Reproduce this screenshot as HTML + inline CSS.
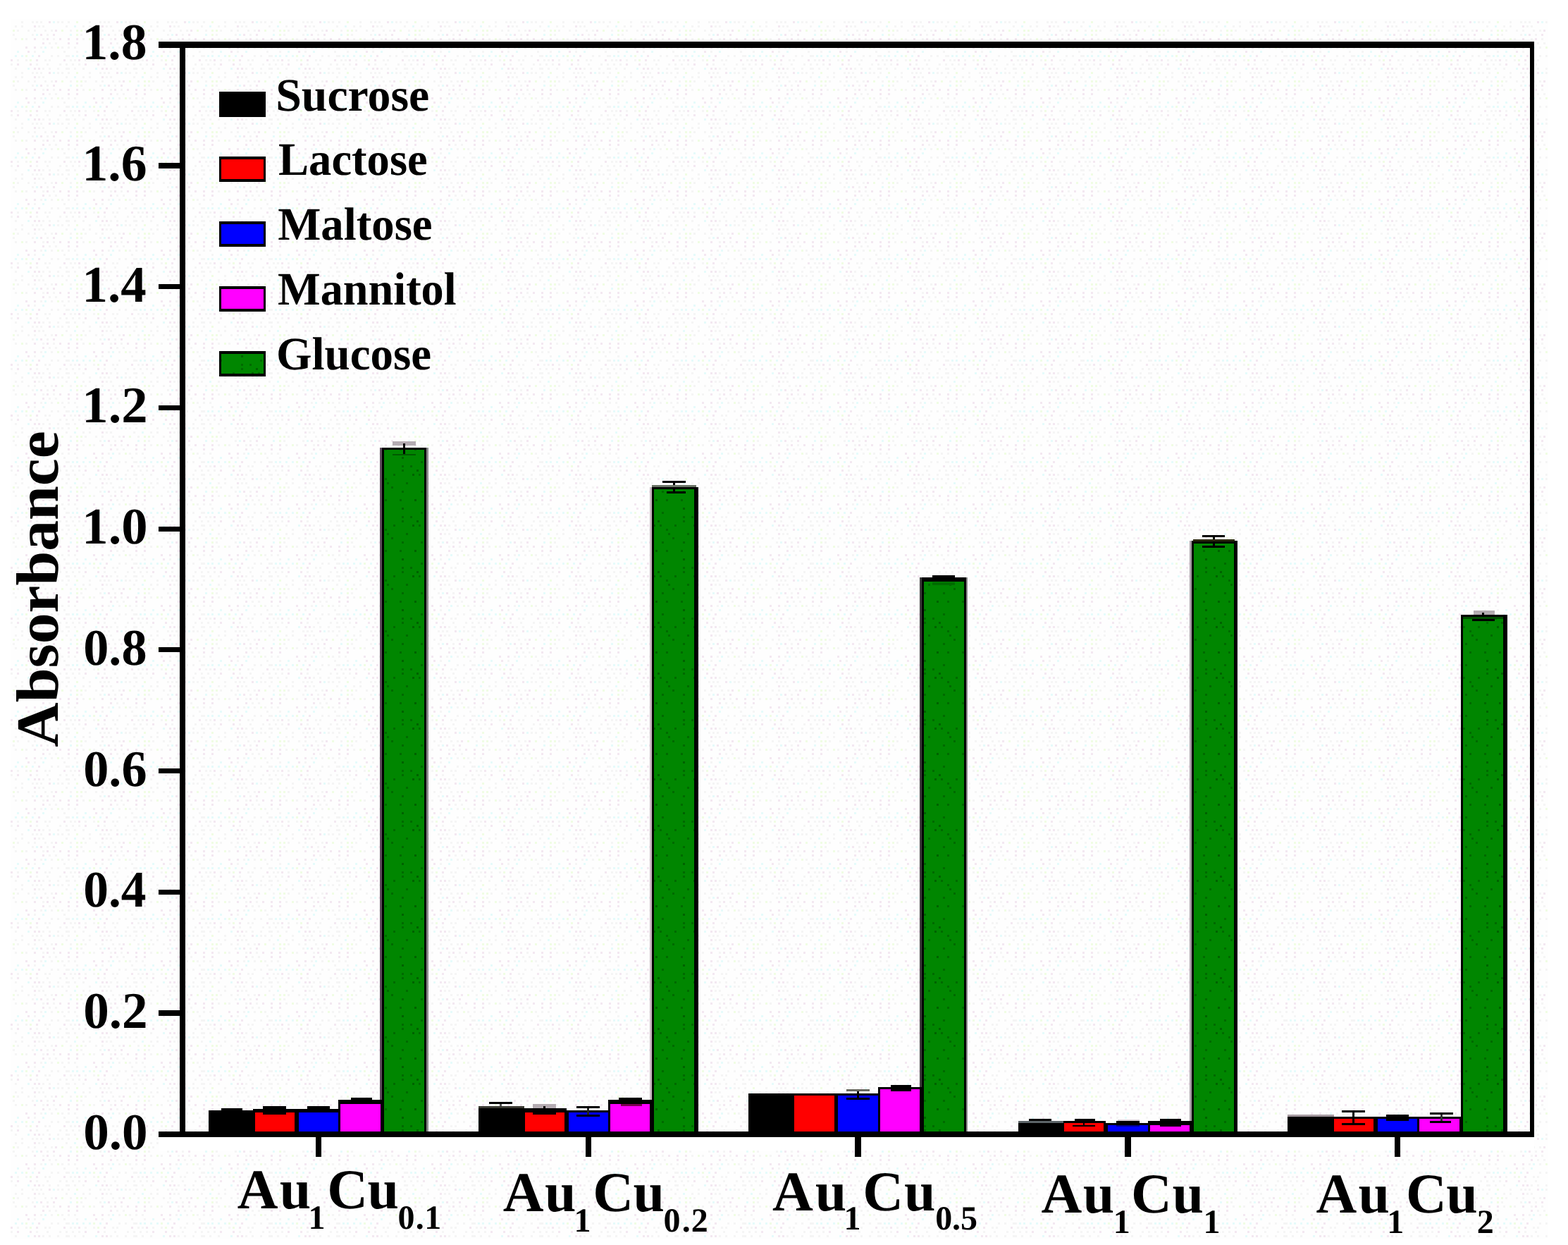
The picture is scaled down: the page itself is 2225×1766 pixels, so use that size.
<!DOCTYPE html>
<html lang="en">
<head>
<meta charset="utf-8">
<title>Absorbance chart</title>
<style>
html,body{margin:0;padding:0;background:#fff;}
body{width:2225px;height:1766px;overflow:hidden;font-family:"Liberation Serif",serif;}
svg{display:block;position:absolute;left:0;top:0;}
</style>
</head>
<body>
<svg width="2225" height="1766" viewBox="0 0 2225 1766" shape-rendering="crispEdges">
<rect x="0" y="0" width="2225" height="1766" fill="#ffffff"/>
<defs>
<pattern id="bn" width="96" height="72" patternUnits="userSpaceOnUse"><rect width="96" height="72" fill="#fefefe"/><rect x="12" y="0" width="3" height="3" fill="#f5f5f5"/><rect x="24" y="0" width="3" height="3" fill="#e6fbfb"/><rect x="39" y="0" width="3" height="3" fill="#f3e8f1"/><rect x="48" y="0" width="3" height="3" fill="#f5f5f5"/><rect x="60" y="0" width="3" height="3" fill="#e6fbfb"/><rect x="90" y="0" width="3" height="3" fill="#f5f5f5"/><rect x="0" y="6" width="3" height="3" fill="#f5f5f5"/><rect x="6" y="6" width="3" height="3" fill="#e6fbfb"/><rect x="12" y="6" width="3" height="3" fill="#e6fbfb"/><rect x="21" y="6" width="3" height="3" fill="#e6fbfb"/><rect x="30" y="6" width="3" height="3" fill="#e6fbfb"/><rect x="36" y="6" width="3" height="3" fill="#f0fde4"/><rect x="45" y="6" width="3" height="3" fill="#e6fbfb"/><rect x="54" y="6" width="3" height="3" fill="#f3e8f1"/><rect x="72" y="6" width="3" height="3" fill="#f5f5f5"/><rect x="81" y="6" width="3" height="3" fill="#f5f5f5"/><rect x="93" y="6" width="3" height="3" fill="#f5f5f5"/><rect x="3" y="12" width="3" height="3" fill="#f5f5f5"/><rect x="9" y="12" width="3" height="3" fill="#f5f5f5"/><rect x="15" y="12" width="3" height="3" fill="#f3e8f1"/><rect x="24" y="12" width="3" height="3" fill="#f5f5f5"/><rect x="36" y="12" width="3" height="3" fill="#f5f5f5"/><rect x="42" y="12" width="3" height="3" fill="#f0fde4"/><rect x="51" y="12" width="3" height="3" fill="#f3e8f1"/><rect x="63" y="12" width="3" height="3" fill="#f5f5f5"/><rect x="69" y="12" width="3" height="3" fill="#f5f5f5"/><rect x="90" y="12" width="3" height="3" fill="#f3e8f1"/><rect x="6" y="18" width="3" height="3" fill="#f5f5f5"/><rect x="15" y="18" width="3" height="3" fill="#f5f5f5"/><rect x="24" y="18" width="3" height="3" fill="#f3e8f1"/><rect x="42" y="18" width="3" height="3" fill="#f3e8f1"/><rect x="51" y="18" width="3" height="3" fill="#f5f5f5"/><rect x="66" y="18" width="3" height="3" fill="#f5f5f5"/><rect x="84" y="18" width="3" height="3" fill="#f5f5f5"/><rect x="93" y="18" width="3" height="3" fill="#f5f5f5"/><rect x="0" y="24" width="3" height="3" fill="#f5f5f5"/><rect x="9" y="24" width="3" height="3" fill="#f5f5f5"/><rect x="21" y="24" width="3" height="3" fill="#f5f5f5"/><rect x="39" y="24" width="3" height="3" fill="#e6fbfb"/><rect x="48" y="24" width="3" height="3" fill="#f3e8f1"/><rect x="54" y="24" width="3" height="3" fill="#f3e8f1"/><rect x="60" y="24" width="3" height="3" fill="#f5f5f5"/><rect x="69" y="24" width="3" height="3" fill="#f5f5f5"/><rect x="81" y="24" width="3" height="3" fill="#f5f5f5"/><rect x="93" y="24" width="3" height="3" fill="#f5f5f5"/><rect x="0" y="30" width="3" height="3" fill="#f5f5f5"/><rect x="12" y="30" width="3" height="3" fill="#f0fde4"/><rect x="30" y="30" width="3" height="3" fill="#f5f5f5"/><rect x="45" y="30" width="3" height="3" fill="#f5f5f5"/><rect x="51" y="30" width="3" height="3" fill="#f5f5f5"/><rect x="57" y="30" width="3" height="3" fill="#f5f5f5"/><rect x="69" y="30" width="3" height="3" fill="#f3e8f1"/><rect x="75" y="30" width="3" height="3" fill="#e6fbfb"/><rect x="81" y="30" width="3" height="3" fill="#f5f5f5"/><rect x="87" y="30" width="3" height="3" fill="#f5f5f5"/><rect x="9" y="36" width="3" height="3" fill="#e6fbfb"/><rect x="21" y="36" width="3" height="3" fill="#f5f5f5"/><rect x="30" y="36" width="3" height="3" fill="#f5f5f5"/><rect x="48" y="36" width="3" height="3" fill="#f3e8f1"/><rect x="54" y="36" width="3" height="3" fill="#f5f5f5"/><rect x="60" y="36" width="3" height="3" fill="#f5f5f5"/><rect x="93" y="36" width="3" height="3" fill="#f5f5f5"/><rect x="3" y="42" width="3" height="3" fill="#f5f5f5"/><rect x="12" y="42" width="3" height="3" fill="#f0fde4"/><rect x="18" y="42" width="3" height="3" fill="#f0fde4"/><rect x="24" y="42" width="3" height="3" fill="#f5f5f5"/><rect x="39" y="42" width="3" height="3" fill="#f5f5f5"/><rect x="48" y="42" width="3" height="3" fill="#f5f5f5"/><rect x="63" y="42" width="3" height="3" fill="#f5f5f5"/><rect x="72" y="42" width="3" height="3" fill="#f5f5f5"/><rect x="78" y="42" width="3" height="3" fill="#f3e8f1"/><rect x="87" y="42" width="3" height="3" fill="#f0fde4"/><rect x="3" y="48" width="3" height="3" fill="#e6fbfb"/><rect x="12" y="48" width="3" height="3" fill="#f0fde4"/><rect x="18" y="48" width="3" height="3" fill="#f5f5f5"/><rect x="45" y="48" width="3" height="3" fill="#f5f5f5"/><rect x="51" y="48" width="3" height="3" fill="#e6fbfb"/><rect x="57" y="48" width="3" height="3" fill="#f3e8f1"/><rect x="66" y="48" width="3" height="3" fill="#f5f5f5"/><rect x="75" y="48" width="3" height="3" fill="#f3e8f1"/><rect x="0" y="54" width="3" height="3" fill="#f3e8f1"/><rect x="12" y="54" width="3" height="3" fill="#f3e8f1"/><rect x="21" y="54" width="3" height="3" fill="#f5f5f5"/><rect x="30" y="54" width="3" height="3" fill="#f0fde4"/><rect x="36" y="54" width="3" height="3" fill="#f5f5f5"/><rect x="48" y="54" width="3" height="3" fill="#f3e8f1"/><rect x="60" y="54" width="3" height="3" fill="#f5f5f5"/><rect x="66" y="54" width="3" height="3" fill="#f3e8f1"/><rect x="75" y="54" width="3" height="3" fill="#f5f5f5"/><rect x="84" y="54" width="3" height="3" fill="#f3e8f1"/><rect x="0" y="60" width="3" height="3" fill="#f3e8f1"/><rect x="12" y="60" width="3" height="3" fill="#f3e8f1"/><rect x="60" y="60" width="3" height="3" fill="#f3e8f1"/><rect x="69" y="60" width="3" height="3" fill="#f5f5f5"/><rect x="78" y="60" width="3" height="3" fill="#f5f5f5"/><rect x="0" y="66" width="3" height="3" fill="#f5f5f5"/><rect x="9" y="66" width="3" height="3" fill="#f5f5f5"/><rect x="36" y="66" width="3" height="3" fill="#f3e8f1"/><rect x="48" y="66" width="3" height="3" fill="#f3e8f1"/><rect x="57" y="66" width="3" height="3" fill="#f5f5f5"/><rect x="63" y="66" width="3" height="3" fill="#e6fbfb"/><rect x="72" y="66" width="3" height="3" fill="#f5f5f5"/><rect x="81" y="66" width="3" height="3" fill="#f0fde4"/><rect x="87" y="66" width="3" height="3" fill="#f5f5f5"/></pattern>
<pattern id="gd" width="57" height="72" patternUnits="userSpaceOnUse"><rect width="57" height="72" fill="#008600"/><rect x="0" y="0" width="3" height="3" fill="#006200"/><rect x="27" y="6" width="3" height="3" fill="#006a00"/><rect x="0" y="12" width="3" height="3" fill="#006a00"/><rect x="12" y="12" width="3" height="3" fill="#006a00"/><rect x="0" y="18" width="3" height="3" fill="#006a00"/><rect x="21" y="18" width="3" height="3" fill="#006200"/><rect x="15" y="24" width="3" height="3" fill="#006200"/><rect x="24" y="24" width="3" height="3" fill="#006a00"/><rect x="45" y="24" width="3" height="3" fill="#006a00"/><rect x="33" y="30" width="3" height="3" fill="#006a00"/><rect x="6" y="36" width="3" height="3" fill="#006a00"/><rect x="36" y="36" width="3" height="3" fill="#006a00"/><rect x="42" y="42" width="3" height="3" fill="#006a00"/><rect x="0" y="48" width="3" height="3" fill="#006a00"/><rect x="27" y="48" width="3" height="3" fill="#006a00"/><rect x="18" y="60" width="3" height="3" fill="#006200"/><rect x="33" y="60" width="3" height="3" fill="#006a00"/><rect x="54" y="60" width="3" height="3" fill="#006a00"/></pattern>
</defs>
<rect x="15" y="27" width="2181" height="1730" fill="url(#bn)"/>
<rect x="225" y="1613" width="1952" height="19" fill="#fff"/>
<rect x="296.2" y="1575.0" width="65.0" height="30.8" fill="#000"/>
<rect x="358.7" y="1572.5" width="62.3" height="33.3" fill="#000"/>
<rect x="361.7" y="1577.8" width="56.3" height="27.0" fill="#ff0000"/>
<rect x="420.7" y="1572.5" width="62.5" height="33.3" fill="#000"/>
<rect x="423.7" y="1577.8" width="56.5" height="27.0" fill="#0000ff"/>
<rect x="480.2" y="1560.3" width="62.3" height="45.5" fill="#000"/>
<rect x="483.2" y="1566.0" width="56.3" height="38.8" fill="#ff00ff"/>
<rect x="542.2" y="635.1" width="63.0" height="970.7" fill="#000"/>
<rect x="545.2" y="637.9" width="57.0" height="966.9" fill="url(#gd)"/>
<rect x="605.2" y="635.1" width="2.6" height="969.7" fill="#8a8a8a"/>
<rect x="679.0" y="1571.0" width="65.0" height="34.8" fill="#000"/>
<rect x="741.5" y="1572.1" width="62.3" height="33.7" fill="#000"/>
<rect x="744.5" y="1577.8" width="56.3" height="27.0" fill="#ff0000"/>
<rect x="803.5" y="1575.0" width="62.5" height="30.8" fill="#000"/>
<rect x="806.5" y="1577.8" width="56.5" height="27.0" fill="#0000ff"/>
<rect x="863.0" y="1560.3" width="62.3" height="45.5" fill="#000"/>
<rect x="866.0" y="1566.0" width="56.3" height="38.8" fill="#ff00ff"/>
<rect x="925.0" y="691.0" width="65.6" height="914.8" fill="#000"/>
<rect x="928.0" y="694.0" width="57.0" height="910.8" fill="url(#gd)"/>
<rect x="1061.7" y="1551.4" width="65.0" height="54.4" fill="#000"/>
<rect x="1124.2" y="1551.4" width="62.3" height="54.4" fill="#000"/>
<rect x="1127.2" y="1554.3" width="56.3" height="50.5" fill="#ff0000"/>
<rect x="1186.2" y="1551.4" width="62.5" height="54.4" fill="#000"/>
<rect x="1189.2" y="1554.3" width="56.5" height="50.5" fill="#0000ff"/>
<rect x="1245.7" y="1542.4" width="62.3" height="63.4" fill="#000"/>
<rect x="1248.7" y="1545.4" width="56.3" height="59.4" fill="#ff00ff"/>
<rect x="1307.7" y="819.0" width="63.0" height="786.8" fill="#000"/>
<rect x="1310.7" y="824.5" width="57.0" height="780.3" fill="url(#gd)"/>
<rect x="1370.7" y="819.0" width="2.6" height="785.8" fill="#8a8a8a"/>
<rect x="1444.5" y="1592.0" width="65.0" height="13.8" fill="#000"/>
<rect x="1507.0" y="1590.3" width="62.3" height="15.5" fill="#000"/>
<rect x="1510.0" y="1592.8" width="56.3" height="12.0" fill="#ff0000"/>
<rect x="1569.0" y="1592.5" width="62.5" height="13.3" fill="#000"/>
<rect x="1572.0" y="1595.7" width="56.5" height="9.1" fill="#0000ff"/>
<rect x="1628.5" y="1590.3" width="62.3" height="15.5" fill="#000"/>
<rect x="1631.5" y="1595.7" width="56.3" height="9.1" fill="#ff00ff"/>
<rect x="1690.5" y="767.0" width="65.6" height="838.8" fill="#000"/>
<rect x="1693.5" y="771.0" width="57.0" height="833.8" fill="url(#gd)"/>
<rect x="1827.2" y="1583.0" width="65.0" height="22.8" fill="#000"/>
<rect x="1889.7" y="1583.8" width="62.3" height="22.0" fill="#000"/>
<rect x="1892.7" y="1586.8" width="56.3" height="18.0" fill="#ff0000"/>
<rect x="1951.7" y="1583.8" width="62.5" height="22.0" fill="#000"/>
<rect x="1954.7" y="1586.8" width="56.5" height="18.0" fill="#0000ff"/>
<rect x="2011.2" y="1583.8" width="62.3" height="22.0" fill="#000"/>
<rect x="2014.2" y="1586.8" width="56.3" height="18.0" fill="#ff00ff"/>
<rect x="2073.2" y="872.1" width="65.8" height="733.7" fill="#000"/>
<rect x="2076.2" y="875.2" width="57.0" height="729.6" fill="url(#gd)"/>
<rect x="539.4" y="635.1" width="2.8" height="925.2" fill="#5c4c5c"/>
<rect x="922.2" y="691.0" width="2.8" height="869.3" fill="#c9bcc4"/>
<rect x="1304.9" y="819.0" width="2.8" height="723.4" fill="#3c3c3c"/>
<rect x="1687.7" y="767.0" width="2.8" height="823.3" fill="#aaa2aa"/>
<rect x="314.1" y="1572.1" width="29.7" height="3.1" fill="#000"/>
<rect x="373.3" y="1569.2" width="32.5" height="11.4" fill="#000"/>
<rect x="435.8" y="1569.2" width="32.5" height="8.6" fill="#000"/>
<rect x="498.0" y="1557.0" width="29.6" height="4.0" fill="#000"/>
<rect x="557.0" y="626.0" width="32.7" height="6.0" fill="#b4acb2"/>
<rect x="572.2" y="628.9" width="2.8" height="16.1" fill="#000"/>
<rect x="557.0" y="643.6" width="32.7" height="2.8" fill="#005a00"/>
<rect x="694.0" y="1563.2" width="32.6" height="2.8" fill="#000"/>
<rect x="708.8" y="1566.0" width="2.8" height="5.5" fill="#555"/>
<rect x="679.2" y="1569.2" width="64.8" height="2.9" fill="#3a3a33"/>
<rect x="756.3" y="1566.0" width="32.4" height="5.8" fill="#b4acb2"/>
<rect x="771.0" y="1568.5" width="2.8" height="9.5" fill="#000"/>
<rect x="756.3" y="1577.8" width="32.4" height="2.8" fill="#000"/>
<rect x="818.3" y="1569.2" width="32.4" height="2.8" fill="#000"/>
<rect x="833.0" y="1572.0" width="2.8" height="9.0" fill="#222"/>
<rect x="818.3" y="1581.0" width="32.4" height="2.8" fill="#000"/>
<rect x="878.0" y="1557.0" width="32.5" height="4.0" fill="#000"/>
<rect x="881.0" y="1566.0" width="29.5" height="2.8" fill="#7a0050"/>
<rect x="940.2" y="682.0" width="32.7" height="3.0" fill="#000"/>
<rect x="955.1" y="685.0" width="2.9" height="12.5" fill="#000"/>
<rect x="946.0" y="697.3" width="26.9" height="2.6" fill="#000"/>
<rect x="925.2" y="688.0" width="62.3" height="3.0" fill="#6b7466"/>
<rect x="1201.3" y="1545.4" width="32.5" height="2.6" fill="#6a6a60"/>
<rect x="1216.0" y="1548.0" width="2.9" height="9.0" fill="#000"/>
<rect x="1201.3" y="1557.0" width="32.5" height="3.0" fill="#000"/>
<rect x="1263.8" y="1538.5" width="29.2" height="9.5" fill="#000"/>
<rect x="1323.0" y="815.8" width="32.3" height="8.7" fill="#000"/>
<rect x="1323.0" y="826.0" width="32.3" height="3.5" fill="#006c00"/>
<rect x="1459.6" y="1587.0" width="32.4" height="2.8" fill="#000"/>
<rect x="1444.5" y="1590.3" width="64.9" height="2.5" fill="#5c6468"/>
<rect x="1524.8" y="1587.0" width="29.6" height="3.3" fill="#000"/>
<rect x="1536.7" y="1590.3" width="2.7" height="5.7" fill="#000"/>
<rect x="1522.0" y="1596.0" width="32.0" height="2.4" fill="#000"/>
<rect x="1584.0" y="1590.3" width="32.6" height="5.4" fill="#000"/>
<rect x="1584.0" y="1595.7" width="32.6" height="2.7" fill="#000090"/>
<rect x="1586.0" y="1587.5" width="30.6" height="2.8" fill="#d8cfd6"/>
<rect x="1646.3" y="1587.0" width="29.7" height="11.4" fill="#000"/>
<rect x="1705.7" y="759.2" width="32.5" height="3.2" fill="#000"/>
<rect x="1721.0" y="762.4" width="2.7" height="12.1" fill="#000"/>
<rect x="1705.7" y="774.2" width="32.5" height="3.0" fill="#000"/>
<rect x="1693.0" y="765.1" width="59.0" height="2.9" fill="#2c2a10"/>
<rect x="1827.0" y="1581.0" width="65.5" height="2.8" fill="#a59aa0"/>
<rect x="1904.2" y="1575.0" width="32.8" height="2.8" fill="#000"/>
<rect x="1919.2" y="1577.8" width="3.0" height="15.2" fill="#000"/>
<rect x="1904.2" y="1592.8" width="32.8" height="2.9" fill="#000"/>
<rect x="1966.7" y="1581.0" width="32.3" height="8.8" fill="#000"/>
<rect x="2029.0" y="1578.0" width="32.6" height="2.6" fill="#000"/>
<rect x="2043.8" y="1580.6" width="2.8" height="9.4" fill="#333"/>
<rect x="2029.0" y="1590.0" width="30.0" height="2.8" fill="#000"/>
<rect x="2091.2" y="866.0" width="29.8" height="6.1" fill="#b4acb2"/>
<rect x="2103.2" y="869.0" width="2.8" height="9.5" fill="#000"/>
<rect x="2088.5" y="878.0" width="32.5" height="3.1" fill="#000"/>
<rect x="2076.3" y="875.2" width="56.7" height="2.8" fill="#004d00"/>
<rect x="225.2" y="59.0" width="1951.9" height="9.0" fill="#000"/>
<rect x="225.2" y="1604.8" width="1951.9" height="8.6" fill="#000"/>
<rect x="254.7" y="59.0" width="8.7" height="1554.4" fill="#000"/>
<rect x="2171.4" y="59.0" width="5.7" height="1554.4" fill="#000"/>
<rect x="225.2" y="231.4" width="30.5" height="7.2" fill="#000"/>
<rect x="225.2" y="403.1" width="30.5" height="7.2" fill="#000"/>
<rect x="225.2" y="574.8" width="30.5" height="7.2" fill="#000"/>
<rect x="225.2" y="746.5" width="30.5" height="7.2" fill="#000"/>
<rect x="225.2" y="918.2" width="30.5" height="7.2" fill="#000"/>
<rect x="225.2" y="1089.9" width="30.5" height="7.2" fill="#000"/>
<rect x="225.2" y="1261.6" width="30.5" height="7.2" fill="#000"/>
<rect x="225.2" y="1433.3" width="30.5" height="7.2" fill="#000"/>
<rect x="447.7" y="1612.4" width="8.6" height="28.6" fill="#000"/>
<rect x="830.5" y="1612.4" width="8.6" height="28.6" fill="#000"/>
<rect x="1213.2" y="1612.4" width="8.6" height="28.6" fill="#000"/>
<rect x="1596.0" y="1612.4" width="8.6" height="28.6" fill="#000"/>
<rect x="1978.7" y="1612.4" width="8.6" height="28.6" fill="#000"/>
<rect x="311" y="130.3" width="65.5" height="35.4" fill="#000"/>
<rect x="311" y="222.3" width="65.5" height="35.4" fill="#000"/>
<rect x="314" y="225.9" width="59.5" height="27.6" fill="#ff0000"/>
<rect x="311" y="314.3" width="65.5" height="35.4" fill="#000"/>
<rect x="314" y="317.9" width="59.5" height="27.6" fill="#0000ff"/>
<rect x="311" y="406.3" width="65.5" height="35.4" fill="#000"/>
<rect x="314" y="409.9" width="59.5" height="27.6" fill="#ff00ff"/>
<rect x="311" y="498.3" width="65.5" height="35.4" fill="#000"/>
<rect x="314" y="501.9" width="59.5" height="27.6" fill="url(#gd)"/>
<g font-family="'Liberation Serif', 'Times New Roman', Times, serif" font-weight="bold" fill="#000" text-rendering="geometricPrecision">
<text transform="translate(391.21 157.00) scale(0.9967 1)" font-size="66">Sucrose</text>
<text transform="translate(395.02 248.00) scale(0.9790 1)" font-size="66">Lactose</text>
<text transform="translate(394.22 339.60) scale(0.9810 1)" font-size="66">Maltose</text>
<text transform="translate(394.03 431.60) scale(0.9736 1)" font-size="66">Mannitol</text>
<text transform="translate(392.05 523.50) scale(0.9840 1)" font-size="66">Glucose</text>
<text transform="translate(116.44 84.30) scale(1.0096 1)" font-size="73">1.8</text>
<text transform="translate(116.44 256.00) scale(1.0096 1)" font-size="73">1.6</text>
<text transform="translate(116.51 427.70) scale(0.9976 1)" font-size="73">1.4</text>
<text transform="translate(116.37 599.40) scale(1.0220 1)" font-size="73">1.2</text>
<text transform="translate(116.37 771.10) scale(1.0220 1)" font-size="73">1.0</text>
<text transform="translate(118.23 942.80) scale(0.9895 1)" font-size="73">0.8</text>
<text transform="translate(118.23 1114.50) scale(0.9895 1)" font-size="73">0.6</text>
<text transform="translate(118.27 1286.20) scale(0.9782 1)" font-size="73">0.4</text>
<text transform="translate(118.20 1457.90) scale(1.0012 1)" font-size="73">0.2</text>
<text transform="translate(118.20 1629.60) scale(1.0012 1)" font-size="73">0.0</text>
<text font-size="80"><tspan x="336.8 396.7" y="1714.3">Au</tspan><tspan x="437.6" y="1743.3" font-size="48">1</tspan><tspan x="464.2 521.4" y="1714.3">Cu</tspan><tspan x="564.4 589.7 602.3" y="1743.3" font-size="48">0.1</tspan></text>
<text font-size="80"><tspan x="713.8 773.0" y="1718.0">Au</tspan><tspan x="814.6" y="1746.5" font-size="48">1</tspan><tspan x="841.3 898.4" y="1718.0">Cu</tspan><tspan x="941.4 967.7 980.8" y="1746.5" font-size="48">0.2</tspan></text>
<text font-size="80"><tspan x="1096.0 1156.7" y="1716.5">Au</tspan><tspan x="1197.6" y="1743.6" font-size="48">1</tspan><tspan x="1224.2 1282.9" y="1716.5">Cu</tspan><tspan x="1327.3 1351.1 1363.0" y="1743.6" font-size="48">0.5</tspan></text>
<text font-size="80"><tspan x="1477.5 1536.7" y="1719.8">Au</tspan><tspan x="1579.8" y="1749.3" font-size="48">1</tspan><tspan x="1604.9 1663.6" y="1719.8">Cu</tspan><tspan x="1707.5" y="1749.3" font-size="48">1</tspan></text>
<text font-size="80"><tspan x="1867.6 1927.5" y="1719.8">Au</tspan><tspan x="1968.3" y="1749.3" font-size="48">1</tspan><tspan x="1994.9 2052.2" y="1719.8">Cu</tspan><tspan x="2095.8" y="1749.3" font-size="48">2</tspan></text>
<text transform="translate(82.4 1059.63) rotate(-90) scale(1.0320 1)" font-size="85">Absorbance</text>
</g>
</svg>
</body>
</html>
